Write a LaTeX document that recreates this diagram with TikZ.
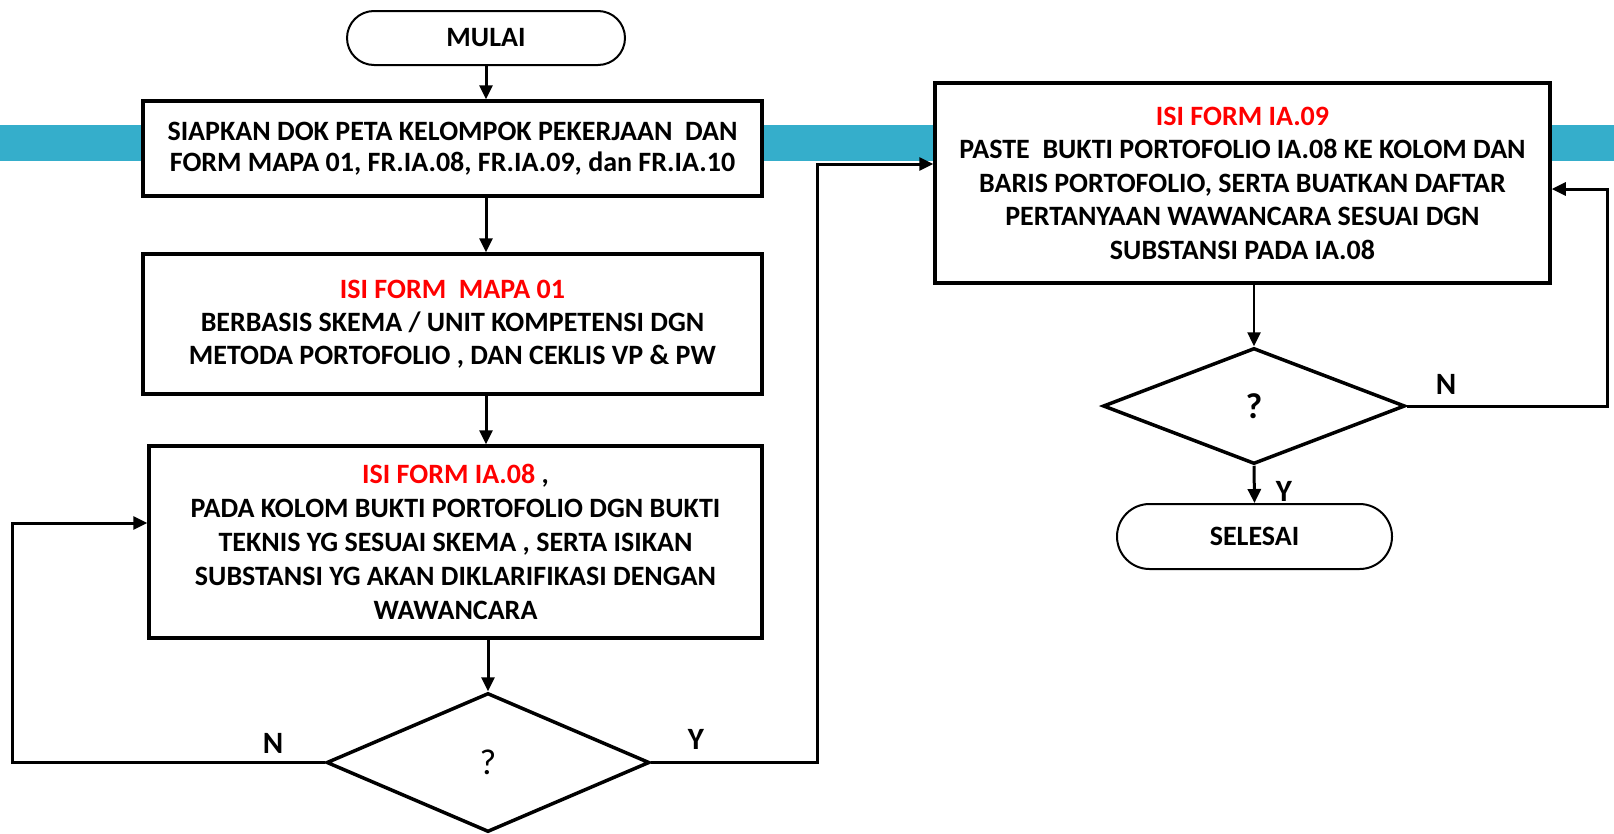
\documentclass[tikz,border=0pt]{standalone}
\usepackage{fontspec}
\setmainfont{Carlito}
\usetikzlibrary{shapes.geometric,shapes.misc,arrows.meta,calc}
\definecolor{band}{RGB}{53,174,203}
\definecolor{redt}{RGB}{255,0,0}
\begin{document}
\begin{tikzpicture}[x=1pt,y=-1pt,
  txt/.style={font=\fontsize{28}{33}\selectfont\bfseries, align=center},
  procbox/.style={draw, line width=3.5pt, fill=white, inner sep=0pt, txt},
  term/.style={draw, line width=2pt, fill=white, rounded rectangle, inner sep=0pt, txt},
  dec/.style={draw, line width=3.5pt, fill=white, diamond, inner sep=0pt},
  arr/.style={line width=3pt, -{Triangle[length=14pt,width=13pt]}},
  lbl/.style={font=\fontsize{31}{31}\selectfont\bfseries}]
\useasboundingbox (0,0) rectangle (1614,833);
\fill[band] (0,125) rectangle (1614,161);
\node[term, minimum width=278pt, minimum height=54pt] (mulai) at (486,38) {MULAI};
\node[procbox, minimum width=619pt, minimum height=95pt, font=\fontsize{28}{31.5}\selectfont\bfseries] (b1) at (452.5,148.5)
  {SIAPKAN DOK PETA KELOMPOK PEKERJAAN\ \ DAN\\FORM MAPA 01, FR.IA.08, FR.IA.09, dan FR.IA.10};
\node[procbox, minimum width=619pt, minimum height=140pt] (b2) at (452.5,324)
  {\textcolor{redt}{ISI FORM\ \ MAPA 01}\\BERBASIS SKEMA / UNIT KOMPETENSI DGN\\METODA PORTOFOLIO , DAN CEKLIS VP \& PW};
\node[procbox, minimum width=613pt, minimum height=192pt, font=\fontsize{28}{34}\selectfont\bfseries] (b3) at (455.5,542)
  {\textcolor{redt}{ISI FORM IA.08} ,\\PADA KOLOM BUKTI PORTOFOLIO DGN BUKTI\\TEKNIS YG SESUAI SKEMA , SERTA ISIKAN\\SUBSTANSI YG AKAN DIKLARIFIKASI DENGAN\\WAWANCARA};
\node[dec, minimum width=323pt, minimum height=139pt] (d1) at (488,762.5) {};
\node[font=\fontsize{36}{36}\selectfont] at (d1.center) {?};
\node[procbox, minimum width=615pt, minimum height=200pt, font=\fontsize{28}{33.5}\selectfont\bfseries] (b4) at (1242.5,183)
  {\textcolor{redt}{ISI FORM IA.09}\\PASTE\ \ BUKTI PORTOFOLIO IA.08 KE KOLOM DAN\\BARIS PORTOFOLIO, SERTA BUATKAN DAFTAR\\PERTANYAAN WAWANCARA SESUAI DGN\\SUBSTANSI PADA IA.08};
\node[dec, minimum width=302pt, minimum height=116pt] (d2) at (1254,406) {};
\node[font=\fontsize{36}{36}\selectfont\bfseries] at (d2.center) {?};
\node[term, minimum width=275pt, minimum height=65pt] (sel) at (1254.5,536.5) {SELESAI};
\coordinate (nL) at (12,523);
\coordinate (yL) at (817,164);
\coordinate (nR) at (1607,189);
\draw[arr] (mulai.south) -- (mulai.south |- b1.north);
\draw[arr] (b1.south -| mulai.south) -- (b2.north -| mulai.south);
\draw[arr] (b2.south -| mulai.south) -- (b3.north -| mulai.south);
\draw[arr] (b3.south -| d1.north) -- (d1.north);
\draw[arr] (d1.west) -| (nL) -- (nL -| b3.west);
\draw[arr] (d1.east) -| (yL) -- (yL -| b4.west);
\draw[arr, line width=2.5pt] (b4.south -| d2.north) -- (d2.north);
\draw[arr] (d2.east) -| (nR) -- (nR -| b4.east);
\draw[arr] (d2.south) -- (sel.north);
\node[lbl] (ln1) at (273,743) {N};
\node[lbl] (ly1) at (696,739) {Y};
\node[lbl] (ln2) at (1446,384) {N};
\node[lbl] (ly2) at (1284,491) {Y};
\end{tikzpicture}
\end{document}
